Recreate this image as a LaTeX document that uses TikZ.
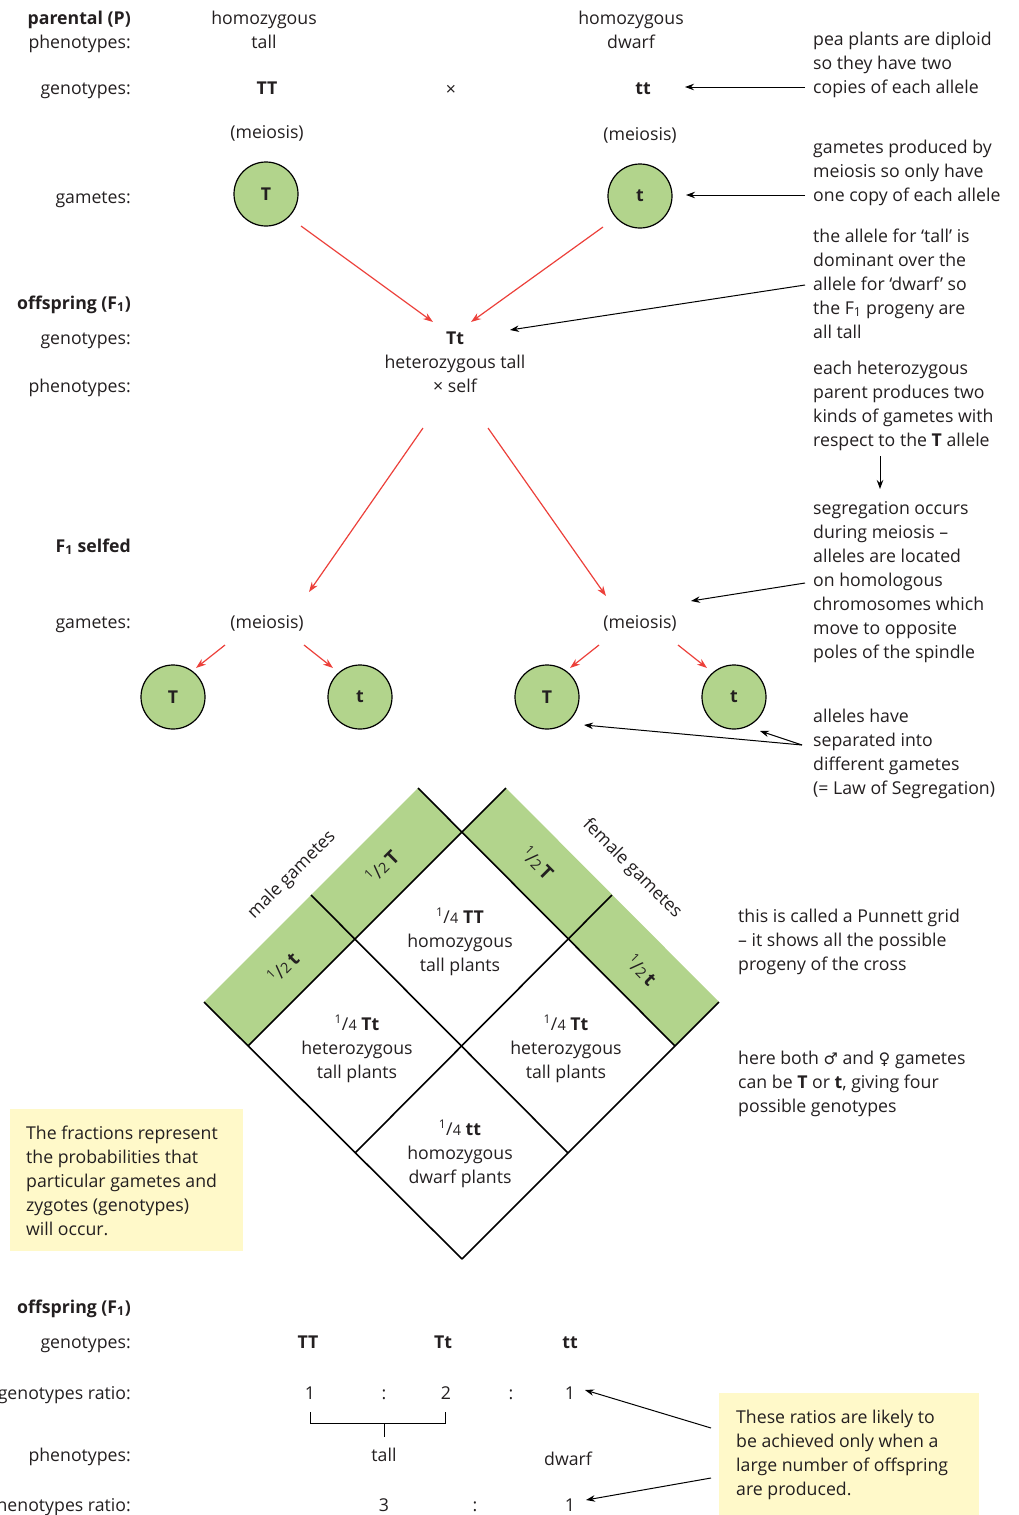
\documentclass[tikz,border=0pt]{standalone}
\usepackage{fontspec}
\setmainfont{Open Sans}
\newfontfamily\symfont{DejaVu Sans}
\usetikzlibrary{arrows.meta,calc}
\definecolor{txt}{RGB}{35,31,32}
\definecolor{gamete}{RGB}{178,212,140}
\definecolor{redarr}{RGB}{236,64,58}
\definecolor{notebg}{RGB}{255,249,201}
% small stacked-looking fraction: superscript numerator, slash, smaller denominator
\newcommand\frc[2]{\raisebox{0.38em}{\fontsize{12}{12}\selectfont #1}\kern0.3pt/\kern0.3pt{\fontsize{14.5}{14.5}\selectfont #2}}
\begin{document}
% multi-line nodes are placed by the baseline of their last line
\begin{tikzpicture}[x=1pt,y=-1pt,
  every node/.style={font=\fontsize{17.7}{24}\selectfont, text=txt, inner sep=0pt},
  lbl/.style={anchor=base east, yshift=-2pt},
  lblb/.style={anchor=base east, yshift=-2pt, font=\fontsize{17.7}{24}\selectfont\bfseries},
  ctr/.style={anchor=base, align=center, yshift=-2pt},
  note/.style={anchor=base west, align=left, yshift=-2pt},
  strip/.style={font=\fontsize{19}{24}\selectfont},
  gam/.style={circle, draw=black, line width=1.2pt, fill=gamete, minimum size=64pt,
              font=\fontsize{17.7}{24}\selectfont\bfseries},
  redarrow/.style={draw=redarr, line width=1.2pt, -{Stealth[length=10pt,width=7pt]}},
  blkarrow/.style={draw=black, line width=1pt, -{Stealth[length=9pt,width=6.5pt]}},
  gridline/.style={draw=black, line width=1.6pt},
  notebox/.style={fill=notebg, anchor=north west},
]
\useasboundingbox (0,0) rectangle (1018,1515);

% ---------- row labels ----------
\node[lblb] (lpar) at (131,22) {parental (P)};
\node[lbl]  (lphen1) at (131,46) {phenotypes:};
\node[lbl]  (lgen1) at (131,92) {genotypes:};
\node[lbl]  (lgam1) at (131,201) {gametes:};
\node[lblb] (loff1) at (131,307) {offspring (F\textsubscript{1})};
\node[lbl]  (lgen2) at (131,342) {genotypes:};
\node[lbl]  (lphen2) at (131,390) {phenotypes:};
\node[lblb] (lself) at (131,550) {F\textsubscript{1} selfed};
\node[lbl]  (lgam2) at (131,626) {gametes:};
\node[lblb] (loff2) at (131,1311) {offspring (F\textsubscript{1})};
\node[lbl]  (lgen3) at (131,1346) {genotypes:};
\node[lbl]  (lgr) at (131,1397) {genotypes ratio:};
\node[lbl]  (lphen3) at (131,1459) {phenotypes:};
\node[lbl]  (lpr) at (131,1509) {phenotypes ratio:};

% ---------- parental generation ----------
\node[ctr] (ptall) at (264,46) {homozygous\\tall};
\node[ctr] (pdwarf) at (631,46) {homozygous\\dwarf};
\node[ctr,font=\fontsize{17.7}{24}\selectfont\bfseries] (gTT) at (267,92) {TT};
\node[ctr] (cross) at (451,93) {×};
\node[ctr,font=\fontsize{17.7}{24}\selectfont\bfseries] (gtt) at (643,92) {tt};
\node[ctr] (mei1) at (267,136) {(meiosis)};
\node[ctr] (mei2) at (640,138) {(meiosis)};
\node[gam] (gP1) at (266,194) {T};
\node[gam] (gP2) at (640,196) {t};

% ---------- F1 ----------
\node[ctr] (f1) at (455,390) {\textbf{Tt}\\heterozygous tall\\× self};
\draw[redarrow] ($(gP1)+(35,32)$) -- ($(f1.base)+(-22,-70)$);
\draw[redarrow] ($(gP2)+(-37,31)$) -- ($(f1.base)+(16,-70)$);

% ---------- F1 selfed ----------
\node[ctr] (mL) at (267,626) {(meiosis)};
\node[ctr] (mR) at (640,626) {(meiosis)};
\draw[redarrow] ($(f1.base)+(-32,36)$) -- ($(mL.base)+(42,-36)$);
\draw[redarrow] ($(f1.base)+(33,36)$) -- ($(mR.base)+(-34,-32)$);
\node[gam] (L1) at (173,697) {T};
\node[gam] (L2) at (360,697) {t};
\node[gam] (R1) at (547,697) {T};
\node[gam] (R2) at (734,697) {t};
\draw[redarrow] ($(mL.base)+(-42,17)$) -- ($(L1)+(23,-29)$);
\draw[redarrow] ($(mL.base)+(37,17)$) -- ($(L2)+(-27,-29)$);
\draw[redarrow] ($(mR.base)+(-41,17)$) -- ($(R1)+(23,-29)$);
\draw[redarrow] ($(mR.base)+(38,17)$) -- ($(R2)+(-27,-29)$);

% ---------- side notes ----------
\node[note] (n1) at (813,91) {pea plants are diploid\\so they have two\\copies of each allele};
\draw[blkarrow] ($(n1.base west)+(-8,-6)$) -- ($(gtt.base)+(42,-7)$);
\node[note] (n2) at (813,199) {gametes produced by\\meiosis so only have\\one copy of each allele};
\draw[blkarrow] ($(n2.base west)+(-8,-6)$) -- ($(gP2)+(46,-1)$);
\node[note] (n3) at (813,336) {the allele for ‘tall’ is\\dominant over the\\allele for ‘dwarf’ so\\the F\textsubscript{1} progeny are\\all tall};
\draw[blkarrow] ($(n3.base west)+(-8,-53)$) -- ($(f1.base)+(55,-62)$);
\node[note] (n4) at (813,444) {each heterozygous\\parent produces two\\kinds of gametes with\\respect to the \textbf{T} allele};
\node[note] (n5) at (813,656) {segregation occurs\\during meiosis –\\alleles are located\\on homologous\\chromosomes which\\move to opposite\\poles of the spindle};
\draw[blkarrow] ($(n4.base west)+(67,10)$) -- ($(n5.base west)+(67,-169)$);
\draw[blkarrow] ($(n5.base west)+(-8,-75)$) -- ($(mR.base)+(51,-27)$);
\node[note] (n6) at (813,792) {alleles have\\separated into\\different gametes\\(= Law of Segregation)};
\draw[blkarrow] ($(n6.base west)+(-11,-49)$) -- ($(R1)+(37,28)$);
\draw[blkarrow] ($(n6.base west)+(-11,-49)$) -- ($(R2)+(26,34)$);
\node[note] (n7) at (738,968) {this is called a Punnett grid\\– it shows all the possible\\progeny of the cross};
\node[note] (n8) at (738,1110) {here both {\symfont\fontsize{16}{24}\selectfont ♂} and {\symfont\fontsize{16}{24}\selectfont ♀} gametes\\can be \textbf{T} or \textbf{t}, giving four\\possible genotypes};

% ---------- Punnett grid ----------
\fill[gamete] (204,1002) -- (418,788) -- (462,832) -- (248,1046) -- cycle;
\fill[gamete] (506,788) -- (719,1002) -- (675,1046) -- (462,832) -- cycle;
\draw[gridline] (418,788) -- (675,1046);
\draw[gridline] (311,895) -- (568,1153);
\draw[gridline] (204,1002) -- (462,1259);
\draw[gridline] (506,788) -- (248,1046);
\draw[gridline] (612,895) -- (355,1153);
\draw[gridline] (719,1002) -- (462,1259);
\node[strip,rotate=45] (mT) at (382,866) {\frc12\,\textbf{T}};
\node[strip,rotate=45] (mt) at (283,967) {\frc12\,\textbf{t}};
\node[strip,rotate=-45] (fT) at (538,863) {\frc12\,\textbf{T}};
\node[strip,rotate=-45] (ft) at (642,970) {\frc12\,\textbf{t}};
\node[rotate=45] (male) at (292,875) {male gametes};
\node[rotate=-45] (female) at (632,869) {female gametes};
\node[ctr] (cTT) at (460,969) {\frc14 \textbf{TT}\\homozygous\\tall plants};
\node[ctr] (cTt1) at (357,1076) {\frc14 \textbf{Tt}\\heterozygous\\tall plants};
\node[ctr] (cTt2) at (566,1076) {\frc14 \textbf{Tt}\\heterozygous\\tall plants};
\node[ctr] (ctt) at (460,1181) {\frc14 \textbf{tt}\\homozygous\\dwarf plants};

% ---------- note boxes ----------
\node[notebox, minimum width=233pt, minimum height=142pt] (box1) at (10,1109) {};
\node[note] (t1) at ($(box1.north west)+(16,124)$) {The fractions represent\\the probabilities that\\particular gametes and\\zygotes (genotypes)\\will occur.};
\node[notebox, minimum width=260pt, minimum height=125pt] (box2) at (719,1393) {};
\node[note] (t2) at ($(box2.north west)+(17,100)$) {These ratios are likely to\\be achieved only when a\\large number of offspring\\are produced.};

% ---------- F2 results ----------
\node[ctr,font=\fontsize{17.7}{24}\selectfont\bfseries] (oTT) at (308,1346) {TT};
\node[ctr,font=\fontsize{17.7}{24}\selectfont\bfseries] (oTt) at (443,1346) {Tt};
\node[ctr,font=\fontsize{17.7}{24}\selectfont\bfseries] (ott) at (570,1346) {tt};
\node[ctr] (r1) at (310,1397) {1};
\node[ctr] (r2) at (384,1397) {:};
\node[ctr] (r3) at (446,1397) {2};
\node[ctr] (r4) at (511,1397) {:};
\node[ctr] (r5) at (570,1397) {1};
\draw[line width=1pt] ($(r1.base)+(0,13)$) -- ($(r1.base)+(0,24)$) -- ($(r3.base)+(-1,24)$) -- ($(r3.base)+(-1,13)$);
\draw[line width=1pt] ($(r2.base)+(0,24)$) -- ($(r2.base)+(0,38)$);
\node[ctr] (ptall2) at (384,1459) {tall};
\node[ctr] (pdwarf2) at (568,1463) {dwarf};
\node[ctr] (p1) at (384,1509) {3};
\node[ctr] (p2) at (475,1509) {:};
\node[ctr] (p3) at (570,1509) {1};
\draw[blkarrow] ($(t2.base west)+(-25,-67)$) -- ($(r5.base)+(15,-9)$);
\draw[blkarrow] ($(t2.base west)+(-25,-17)$) -- ($(p3.base)+(16,-11)$);
\end{tikzpicture}
\end{document}
